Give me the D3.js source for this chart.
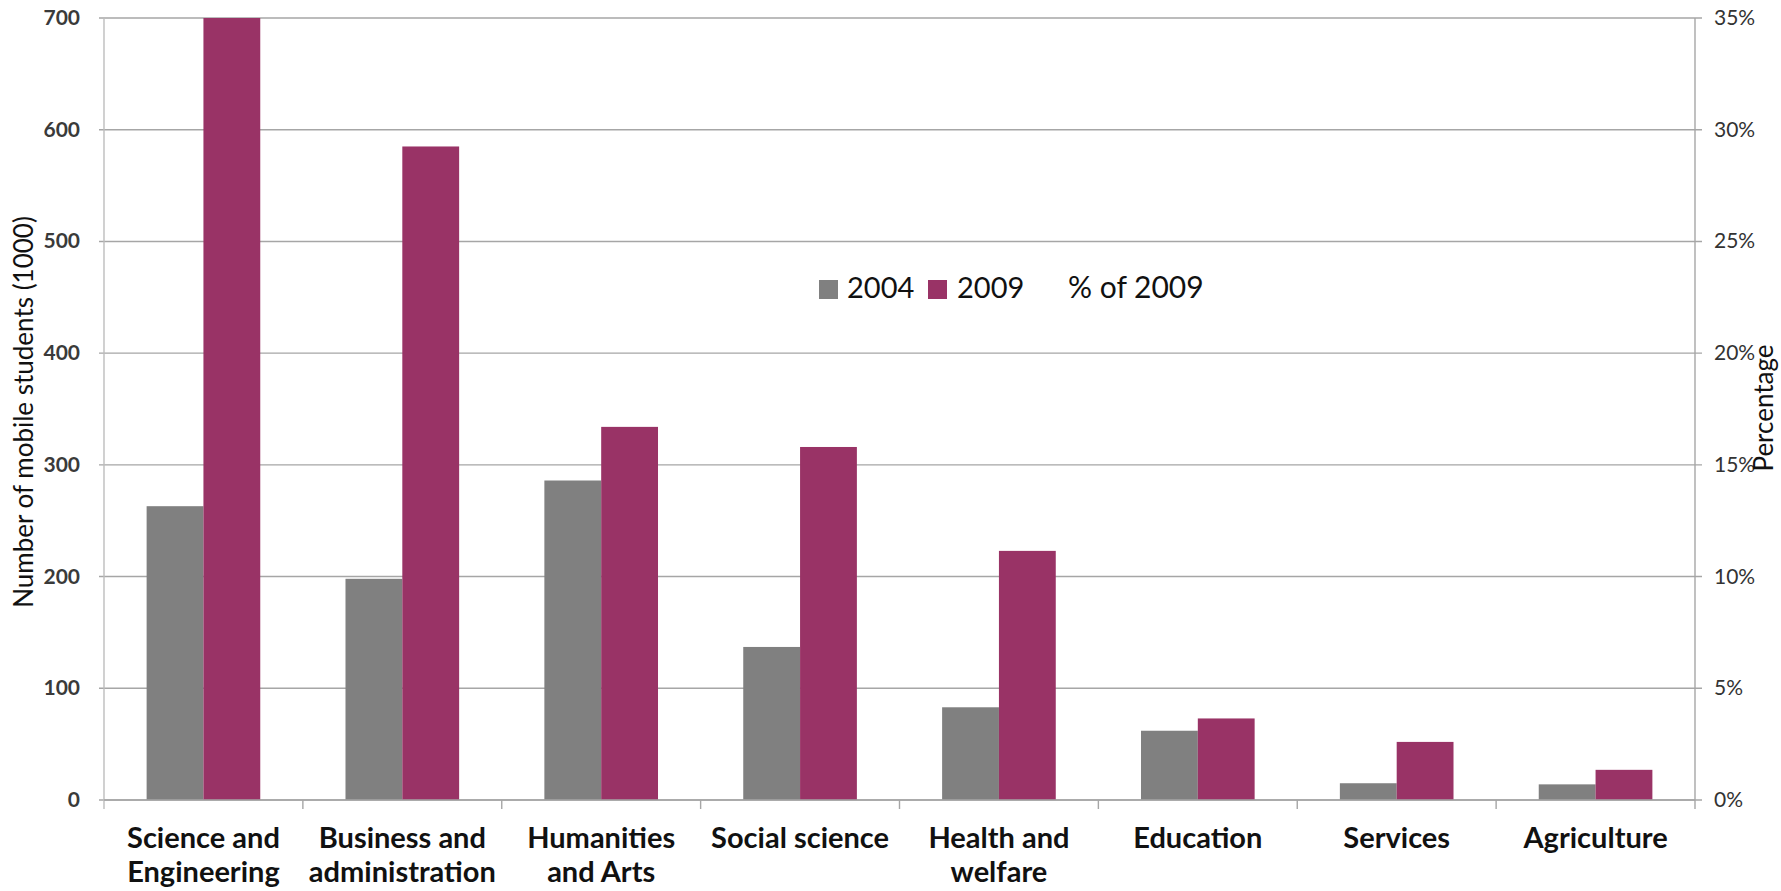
<!DOCTYPE html>
<html>
<head>
<meta charset="utf-8">
<script src="https://cdn.jsdelivr.net/npm/d3@7"></script>
<style>
  html, body { margin: 0; padding: 0; background: #fff; }
  svg { display: block; }
  text { font-family: Lato, "Open Sans", sans-serif; }
</style>
</head>
<body>
<svg id="chart" width="1781" height="891"></svg>
<script>
// Mobile students by field of study (thousands), 2004 vs 2009
const categories = [
  ["Science and", "Engineering"],
  ["Business and", "administration"],
  ["Humanities", "and Arts"],
  ["Social science"],
  ["Health and", "welfare"],
  ["Education"],
  ["Services"],
  ["Agriculture"]
];
const years = ["2004", "2009"];
const values2004 = [263, 198, 286, 137, 83, 62, 15, 14];
const values2009 = [700, 585, 334, 316, 223, 73, 52, 27];
const leftTicks = [0, 100, 200, 300, 400, 500, 600, 700];
const rightTicks = [0, 0.05, 0.10, 0.15, 0.20, 0.25, 0.30, 0.35];
const colors = { "2004": "#808080", "2009": "#993366" };

const svg = d3.select("#chart");
const plot = { left: 104, right: 1695, top: 18, bottom: 800 };
const gridColor = "#a6a6a6";

const catKeys = categories.map((c, i) => i);
const x = d3.scaleBand().domain(catKeys).range([plot.left, plot.right]).paddingInner(0).paddingOuter(0);
const xs = d3.scaleBand().domain(years).range([0, x.bandwidth()]).paddingInner(0).paddingOuter(0.75);
const y = d3.scaleLinear().domain([0, 700]).range([plot.bottom, plot.top]);
const yR = d3.scaleLinear().domain([0, 0.35]).range([plot.bottom, plot.top]);

// Horizontal gridlines with short outward ticks on both sides
svg.append("g").selectAll("line").data(leftTicks).join("line")
  .attr("x1", plot.left - 5).attr("x2", plot.right + 7)
  .attr("y1", d => y(d)).attr("y2", d => y(d))
  .attr("stroke", gridColor).attr("stroke-width", 1.4);

// Bars
const series = { "2004": values2004, "2009": values2009 };
years.forEach(yr => {
  svg.append("g").selectAll("rect").data(series[yr]).join("rect")
    .attr("x", (d, i) => x(i) + xs(yr))
    .attr("width", xs.bandwidth())
    .attr("y", d => y(d))
    .attr("height", d => y(0) - y(d))
    .attr("fill", colors[yr]);
});

// Axis lines
svg.append("line").attr("x1", plot.left).attr("x2", plot.left)
  .attr("y1", plot.top).attr("y2", plot.bottom + 9)
  .attr("stroke", "#bdbdbd").attr("stroke-width", 1.4);
svg.append("line").attr("x1", plot.right).attr("x2", plot.right)
  .attr("y1", plot.top).attr("y2", plot.bottom + 9)
  .attr("stroke", gridColor).attr("stroke-width", 1.4);
svg.append("line").attr("x1", plot.left).attr("x2", plot.right)
  .attr("y1", plot.bottom).attr("y2", plot.bottom)
  .attr("stroke", gridColor).attr("stroke-width", 1.6);

// Category tick marks at band boundaries
svg.append("g").selectAll("line").data(catKeys.slice(1)).join("line")
  .attr("x1", d => x(d)).attr("x2", d => x(d))
  .attr("y1", plot.bottom).attr("y2", plot.bottom + 9)
  .attr("stroke", gridColor).attr("stroke-width", 1.4);

// Left tick labels
svg.append("g").selectAll("text").data(leftTicks).join("text")
  .attr("x", 80).attr("y", d => y(d) + 7)
  .attr("text-anchor", "end")
  .attr("font-size", 21).attr("font-weight", "bold").attr("fill", "#3a3a3a")
  .text(d => d3.format("d")(d));

// Right tick labels
svg.append("g").selectAll("text").data(rightTicks).join("text")
  .attr("x", 1714).attr("y", d => yR(d) + 7)
  .attr("text-anchor", "start")
  .attr("font-size", 21).attr("fill", "#333")
  .text(d => d3.format(".0%")(d));

// Category labels
const catG = svg.append("g").selectAll("text").data(categories).join("text")
  .attr("text-anchor", "middle")
  .attr("font-size", 29).attr("font-weight", "bold").attr("fill", "#111")
  .attr("transform", (d, i) => `translate(${x(i) + x.bandwidth() / 2},0)`);
catG.selectAll("tspan").data(d => d).join("tspan")
  .attr("x", 0).attr("y", (d, j) => 848 + j * 34)
  .text(d => d);

// Axis titles
svg.append("text")
  .attr("transform", "translate(33,412) rotate(-90)")
  .attr("text-anchor", "middle").attr("font-size", 26).attr("fill", "#111")
  .text("Number of mobile students (1000)");
svg.append("text")
  .attr("transform", "translate(1773,408) rotate(-90)")
  .attr("text-anchor", "middle").attr("font-size", 26).attr("fill", "#111")
  .text("Percentage");

// Legend
const legend = svg.append("g");
const legendItems = [
  { key: "2004", sx: 819, tx: 847 },
  { key: "2009", sx: 928, tx: 957 }
];
legendItems.forEach(it => {
  legend.append("rect").attr("x", it.sx).attr("y", 280).attr("width", 19).attr("height", 19)
    .attr("fill", colors[it.key]);
  legend.append("text").attr("x", it.tx).attr("y", 298)
    .attr("font-size", 29).attr("fill", "#111").text(it.key);
});
legend.append("text").attr("x", 1068).attr("y", 298)
  .attr("font-size", 30).attr("fill", "#111").text("% of 2009");
</script>
</body>
</html>
